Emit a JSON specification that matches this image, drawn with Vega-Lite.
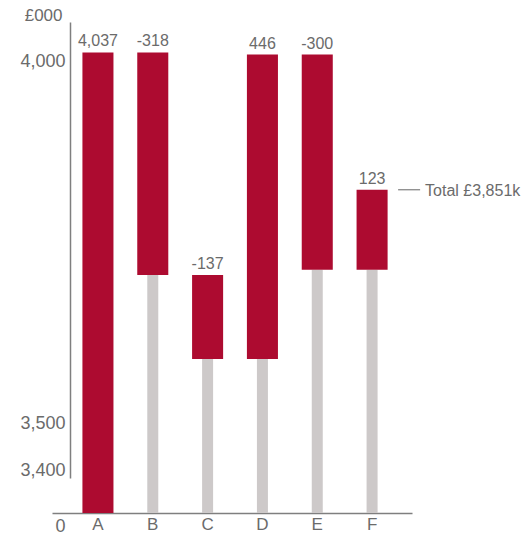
{
  "$schema": "https://vega.github.io/schema/vega-lite/v6.json",
  "width": 360,
  "height": 491,
  "autosize": {"type": "none"},
  "padding": {"left": 52, "top": 22, "right": 115, "bottom": 22},
  "config": {
    "view": {"stroke": null},
    "font": "Liberation Sans",
    "text": {"font": "Liberation Sans"}
  },
  "datasets": {
    "bars": [
      {"cat": "A", "low": 0, "high": 4037, "label": "4,037"},
      {"cat": "B", "low": 3719, "high": 4037, "label": "-318"},
      {"cat": "C", "low": 3582, "high": 3719, "label": "-137"},
      {"cat": "D", "low": 3582, "high": 4028, "label": "446"},
      {"cat": "E", "low": 3728, "high": 4028, "label": "-300"},
      {"cat": "F", "low": 3728, "high": 3851, "label": "123"}
    ],
    "total": [
      {"cat": "F", "total": 3851, "label": "Total £3,851k"}
    ]
  },
  "data": {"name": "bars"},
  "encoding": {
    "x": {
      "field": "cat",
      "type": "nominal",
      "sort": null,
      "scale": {"domain": ["A", "B", "C", "D", "E", "F"], "paddingInner": 0.434, "paddingOuter": 0.5, "align": 0.555},
      "axis": {
        "title": null,
        "ticks": false,
        "labelAngle": 0,
        "labelFontSize": 17,
        "labelColor": "#6b6b6b",
        "labelPadding": 3,
        "domainColor": "#7f7f7f",
        "domainWidth": 1.6
      }
    }
  },
  "layer": [
    {
      "transform": [{"filter": "datum.cat !== 'A'"}],
      "mark": {"type": "bar", "color": "#cdc9c9", "width": 11},
      "encoding": {
        "y": {
          "field": "low",
          "type": "quantitative",
          "scale": {
            "domain": [0, 3400, 3500, 3600, 3700, 3800, 3900, 4000, 4100, 4150],
            "range": [491, 448, 401, 323, 264, 206, 131, 39, 16, 0],
            "zero": false,
            "nice": false
          },
          "axis": {
            "values": [0, 3400, 3500, 4000],
            "format": ",.0f",
            "ticks": false,
            "grid": false,
            "offset": -18,
            "domainColor": "#7f7f7f",
            "domainWidth": 1.5,
            "domainDash": [0, 35, 456, 10],
            "labelFontSize": 18,
            "labelColor": "#6b6b6b",
            "labelPadding": 5,
            "labelOffset": {"condition": {"test": "datum.value === 0", "value": 13}, "value": 0},
            "title": "£000",
            "titleAngle": 0,
            "titleAlign": "right",
            "titleBaseline": "middle",
            "titleX": -8,
            "titleY": -7,
            "titleFontSize": 17,
            "titleFontWeight": "normal",
            "titleColor": "#6b6b6b"
          }
        },
        "y2": {"datum": 0}
      }
    },
    {
      "mark": {"type": "bar", "color": "#ad0b30"},
      "encoding": {
        "y": {"field": "high", "type": "quantitative"},
        "y2": {"field": "low"}
      }
    },
    {
      "mark": {"type": "text", "fontSize": 16, "color": "#6b6b6b", "baseline": "alphabetic", "dy": -6},
      "encoding": {
        "y": {"field": "high", "type": "quantitative"},
        "text": {"field": "label"}
      }
    },
    {
      "data": {"name": "total"},
      "mark": {"type": "rule", "color": "#7f7f7f", "strokeWidth": 1.2, "xOffset": 10.5, "x2Offset": 32.5},
      "encoding": {
        "x": {"field": "cat", "type": "nominal", "bandPosition": 1},
        "x2": {"field": "cat", "bandPosition": 1},
        "y": {"field": "total", "type": "quantitative"}
      }
    },
    {
      "data": {"name": "total"},
      "mark": {"type": "text", "fontSize": 16, "color": "#6b6b6b", "align": "left", "baseline": "middle", "dx": 37.5, "dy": 1},
      "encoding": {
        "x": {"field": "cat", "type": "nominal", "bandPosition": 1},
        "y": {"field": "total", "type": "quantitative"},
        "text": {"field": "label"}
      }
    }
  ]
}
